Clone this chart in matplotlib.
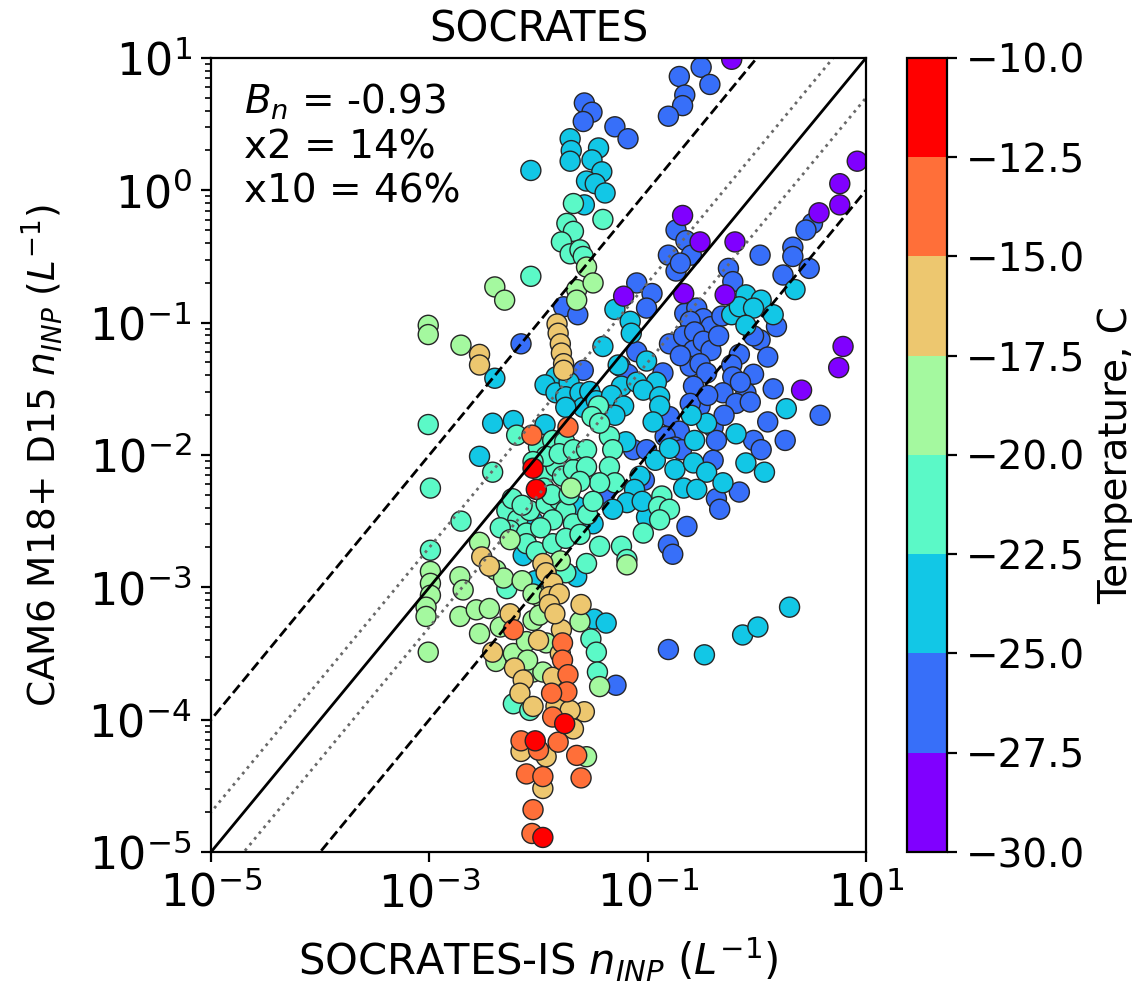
import numpy as np
import matplotlib.pyplot as plt
from matplotlib.colors import BoundaryNorm
from matplotlib.ticker import NullLocator

# log10 of n_INP (L^-1): x = SOCRATES-IS observation, y = CAM6 M18+ D15 model
# points grouped by the 2.5 C temperature bin they fall in

# -30.0 .. -27.5 C
purple_x = [-0.23, 0.92, 0.76, 0.76, 0.57, -0.68, -0.52, -0.20, -1.22, -0.67,
            -0.29, 0.79, 0.75, 0.41]
purple_y = [0.99, 0.22, 0.05, -0.11, -0.17, -0.19, -0.39, -0.39, -0.80, -0.78,
            -0.79, -1.18, -1.34, -1.51]

# -27.5 .. -25.0 C
blue_x = [-0.51, -0.43, -0.71, -0.66, -0.68, -0.81, -1.58, -1.51, -1.59, -1.30,
          -1.18, -0.74, -0.65, 0.51, 0.45, 0.33, -1.77, -1.64, -2.16, -1.59,
          -0.81, -0.74, -0.60, -0.26, -0.22, 0.03, 0.33, 0.48, 0.24, -1.10,
          -0.96, -1.01, -0.66, -0.55, -0.49, -0.61, -0.42, -0.32, 0.18, 0.03,
          -1.10, -0.80, -0.67, -0.57, -0.58, -0.49, -0.42, -0.16, -0.03, 0.10,
          -1.25, -1.18, -0.86, -0.61, -0.52, -0.46, -0.23, -0.22, -0.03, -0.31,
          -0.10, -0.19, -0.06, -0.58, -0.52, -0.61, -0.80, 0.58, 0.26, -0.71,
          -0.84, -0.75, -0.69, -0.40, -0.37, -0.03, 0.04, -1.13, -1.01, -0.40,
          -1.03, -0.37, -0.16, -0.34, -0.64, -0.81, -0.77, -1.39, -1.29, -0.81,
          -0.70, -0.45, -0.30, -0.15, 0.15, -0.70, -0.35, 0.10]
blue_y = [0.93, 0.80, 0.86, 0.72, 0.64, 0.56, 0.66, 0.59, 0.52, 0.48,
          0.39, -0.30, -0.38, -0.25, -0.30, -0.43, -0.88, -0.94, -1.16, -1.36,
          -0.49, -0.61, -0.49, -0.59, -0.69, -0.49, -0.50, -0.59, -0.64, -0.70,
          -0.78, -0.89, -0.93, -0.89, -0.97, -0.99, -1.03, -0.95, -1.03, -1.13,
          -1.22, -1.16, -1.10, -1.07, -1.21, -1.14, -1.21, -1.24, -1.10, -1.26,
          -1.33, -1.39, -1.38, -1.33, -1.31, -1.38, -1.32, -1.41, -1.39, -1.53,
          -1.53, -1.61, -1.60, -1.48, -1.63, -1.61, -1.71, -1.70, -1.89, -1.82,
          -1.86, -1.94, -1.96, -1.79, -1.89, -1.89, -1.96, -1.96, -1.96, -2.04,
          -2.19, -2.33, -2.28, -2.41, -2.54, -2.68, -2.75, -2.29, -3.74, -3.47,
          -0.55, -1.55, -1.70, -1.45, -1.50, -1.25, -1.10, -1.75]

# -25.0 .. -22.5 C
cyan_x = [-2.07, -1.71, -1.70, -1.71, -1.45, -1.51, -1.42, -1.56, -1.48, -1.39,
          -1.58, -2.40, -1.84, -1.94, -1.84, -1.72, -1.75, -1.62, -1.59, -1.75,
          -1.53, -1.47, -2.42, -2.23, -1.94, -2.54, -2.05, -1.65, -2.14, -2.03,
          -1.65, 0.35, -1.30, -1.16, -1.15, -0.23, -0.10, 0.04, 0.15, -0.16,
          -0.03, -0.10, -1.41, -1.27, -1.01, -0.92, -1.24, -1.33, -1.10, -1.04,
          -0.89, -0.89, -1.22, 0.27, -0.57, -0.19, -0.46, -0.93, -0.75, -0.58,
          -0.46, -0.10, 0.07, -1.07, -1.12, -0.31, -0.67, -0.55, -1.19, -1.01,
          -1.32, -1.50, -1.49, -1.38, -0.48, -0.13, 0.01, 0.30, -1.30, -1.20,
          -0.95, -0.80, -1.05, -0.60]
cyan_y = [0.15, 0.39, 0.30, 0.22, 0.32, 0.23, 0.14, 0.07, 0.05, -0.02,
          -0.11, -1.42, -1.41, -1.47, -1.53, -1.45, -1.56, -1.53, -1.64, -1.64,
          -1.52, -1.59, -1.76, -1.74, -1.77, -2.01, -2.50, -2.39, -2.76, -2.95,
          -2.92, -0.75, -0.90, -0.99, -1.08, -0.94, -0.79, -0.83, -0.94, -0.88,
          -0.89, -1.02, -1.18, -1.32, -1.29, -1.45, -1.48, -1.55, -1.45, -1.51,
          -1.56, -1.63, -1.63, -1.65, -1.89, -1.84, -1.76, -2.04, -2.11, -2.06,
          -2.13, -2.06, -2.13, -2.16, -2.26, -2.21, -2.25, -2.26, -2.36, -2.47,
          -2.41, -2.52, -3.24, -3.27, -3.51, -3.36, -3.30, -3.15, -1.70, -1.90,
          -1.75, -1.95, -2.35, -1.70]

# -22.5 .. -20.0 C
aqua_x = [-1.68, -1.41, -1.74, -1.68, -1.79, -2.07, -1.71, -1.62, -1.59, -3.01,
          -2.20, -2.00, -1.87, -1.76, -2.42, -2.99, -1.96, -1.84, -1.78, -1.68,
          -1.93, -1.81, -1.68, -2.71, -2.29, -2.19, -2.26, -2.08, -2.11, -1.93,
          -1.81, -1.75, -1.87, -1.68, -2.99, -2.11, -2.02, -1.87, -1.75, -2.29,
          -1.75, -2.24, -2.15, -1.45, -1.51, -1.35, -1.44, -1.32, -1.56, -1.35,
          -1.56, -1.30, -1.44, -0.87, -0.90, -0.80, -0.89, -1.04, -1.24, -1.19,
          -1.44, -1.56, -2.23, -2.08, -1.52, -1.47, -1.46, -1.95, -1.88, -1.72,
          -1.62, -2.05, -1.55, -1.62, -1.50, -2.35, -1.98]
aqua_y = [-0.10, -0.22, -0.25, -0.31, -0.39, -0.65, -0.48, -0.45, -0.50, -1.77,
          -1.85, -1.94, -1.89, -1.90, -2.13, -2.25, -2.16, -2.09, -2.16, -2.11,
          -2.01, -1.99, -1.96, -2.50, -2.42, -2.49, -2.57, -2.42, -2.59, -2.37,
          -2.34, -2.42, -2.49, -2.52, -2.72, -2.67, -2.73, -2.67, -2.63, -3.01,
          -2.89, -2.33, -2.38, -1.63, -1.71, -1.86, -1.76, -1.96, -1.96, -2.09,
          -2.09, -2.21, -2.21, -2.31, -2.39, -2.41, -2.49, -2.59, -2.69, -2.79,
          -2.69, -2.82, -3.88, -3.93, -3.39, -3.49, -3.64, -2.25, -2.30, -2.30,
          -2.20, -2.05, -2.45, -2.60, -2.35, -2.55, -2.55]

# -20.0 .. -17.5 C
green_x = [-2.40, -2.31, -3.01, -3.01, -2.71, -1.65, -1.65, -1.56, -1.50, -1.19,
           -2.54, -2.26, -2.39, -2.32, -2.99, -2.99, -2.99, -2.72, -2.69, -1.99,
           -1.70, -3.03, -3.03, -3.01, -2.72, -2.54, -2.39, -2.57, -2.45, -2.23,
           -2.11, -2.05, -1.93, -1.99, -2.05, -1.96, -1.56, -1.62, -1.44, -2.15,
           -2.05, -1.80, -2.35, -2.10]
green_y = [-0.73, -0.83, -1.02, -1.09, -1.17, -0.75, -0.83, -0.58, -0.70, -2.83,
           -2.66, -2.64, -2.87, -2.93, -2.88, -2.97, -3.06, -2.92, -3.02, -3.07,
           -2.25, -3.15, -3.22, -3.49, -3.22, -3.35, -3.56, -3.17, -3.16, -3.50,
           -3.41, -3.25, -3.42, -3.21, -3.64, -3.64, -4.28, -3.26, -3.75, -2.95,
           -3.05, -2.80, -3.30, -3.55]

# -17.5 .. -15.0 C
tan_x = [-2.54, -2.54, -1.83, -1.82, -1.80, -1.79, -1.77, -1.77, -2.52, -1.96,
         -1.93, -1.87, -2.45, -1.90, -1.81, -2.42, -2.26, -2.22, -2.14, -2.17,
         -2.05, -1.84, -1.87, -1.90, -1.79, -1.61, -1.58, -1.71, -1.68, -2.16,
         -1.93, -1.96, -1.85, -1.80, -2.00]
tan_y = [-1.24, -1.32, -1.01, -1.08, -1.16, -1.23, -1.31, -1.36, -2.77, -2.82,
         -2.89, -2.97, -2.84, -3.07, -3.05, -3.49, -3.20, -3.61, -3.70, -3.80,
         -3.90, -3.90, -3.68, -3.13, -3.32, -3.13, -3.94, -3.93, -4.07, -4.24,
         -4.28, -4.52, -3.20, -3.50, -3.40]

# -15.0 .. -12.5 C
orange_x = [-2.06, -1.73, -2.23, -1.78, -1.78, -1.73, -1.74, -1.88, -1.87, -1.82,
            -2.16, -2.00, -1.65, -2.11, -1.96, -1.61, -2.05, -2.06]
orange_y = [-1.85, -1.79, -3.32, -3.42, -3.55, -3.66, -3.79, -3.80, -3.98, -4.17,
            -4.16, -4.23, -4.27, -4.41, -4.43, -4.44, -4.68, -4.86]

# -12.5 .. -10.0 C
red_x = [-2.05, -2.02, -1.76, -2.03, -1.96]
red_y = [-2.10, -2.26, -4.03, -4.16, -4.89]

bin_temps = [-28.75, -26.25, -23.75, -21.25, -18.75, -16.25, -13.75, -11.25]
levels = np.arange(-30, -7.5, 2.5)

groups = [
    (blue_x, blue_y, bin_temps[1]),
    (cyan_x, cyan_y, bin_temps[2]),
    (aqua_x, aqua_y, bin_temps[3]),
    (green_x, green_y, bin_temps[4]),
    (tan_x, tan_y, bin_temps[5]),
    (orange_x, orange_y, bin_temps[6]),
    (red_x, red_y, bin_temps[7]),
    (purple_x, purple_y, bin_temps[0]),
]

cmap = plt.get_cmap('rainbow', len(levels) - 1)
norm = BoundaryNorm(levels, cmap.N)

fig = plt.figure(figsize=(5.66, 4.93), dpi=200)
ax = fig.add_axes([0.1864, 0.1359, 0.5786, 0.8053])
cax = fig.add_axes([0.8012, 0.1359, 0.0353, 0.8053])

for gx, gy, t in groups:
    obs = 10 ** np.array(gx)
    mod = 10 ** np.array(gy)
    sc = ax.scatter(obs, mod, c=np.full(len(obs), t), cmap=cmap, norm=norm,
                    s=52, edgecolors='0.15', linewidths=0.5)

# 1:1, factor of 2 and factor of 10 lines
one = np.array([1e-6, 1e2])
ax.plot(one, one, 'k-', lw=1)
ax.plot(one, 2 * one, ':', color='dimgray', lw=1)
ax.plot(one, one / 2, ':', color='dimgray', lw=1)
ax.plot(one, 10 * one, 'k--', lw=1)
ax.plot(one, one / 10, 'k--', lw=1)

ax.set_xscale('log')
ax.set_yscale('log')
ax.set_xlim(1e-5, 1e1)
ax.set_ylim(1e-5, 1e1)
ax.set_xticks([1e-5, 1e-3, 1e-1, 1e1])
ax.xaxis.set_minor_locator(NullLocator())
ax.tick_params(labelsize=16)

ax.set_title('SOCRATES', fontsize=15)
ax.set_xlabel('SOCRATES-IS $n_{INP}$ ($L^{-1}$)', fontsize=15, labelpad=7)
ax.set_ylabel('CAM6 M18+ D15 $n_{INP}$ ($L^{-1}$)', fontsize=13.5, labelpad=8)

ax.text(0.05, 0.97, '$B_n$ = -0.93\nx2 = 14%\nx10 = 46%', transform=ax.transAxes,
        fontsize=14, va='top', ha='left')

cb = fig.colorbar(sc, cax=cax, ticks=levels)
cb.ax.tick_params(labelsize=14)
cb.set_label('Temperature, C', fontsize=14)

fig.savefig('out.png', dpi=200)
